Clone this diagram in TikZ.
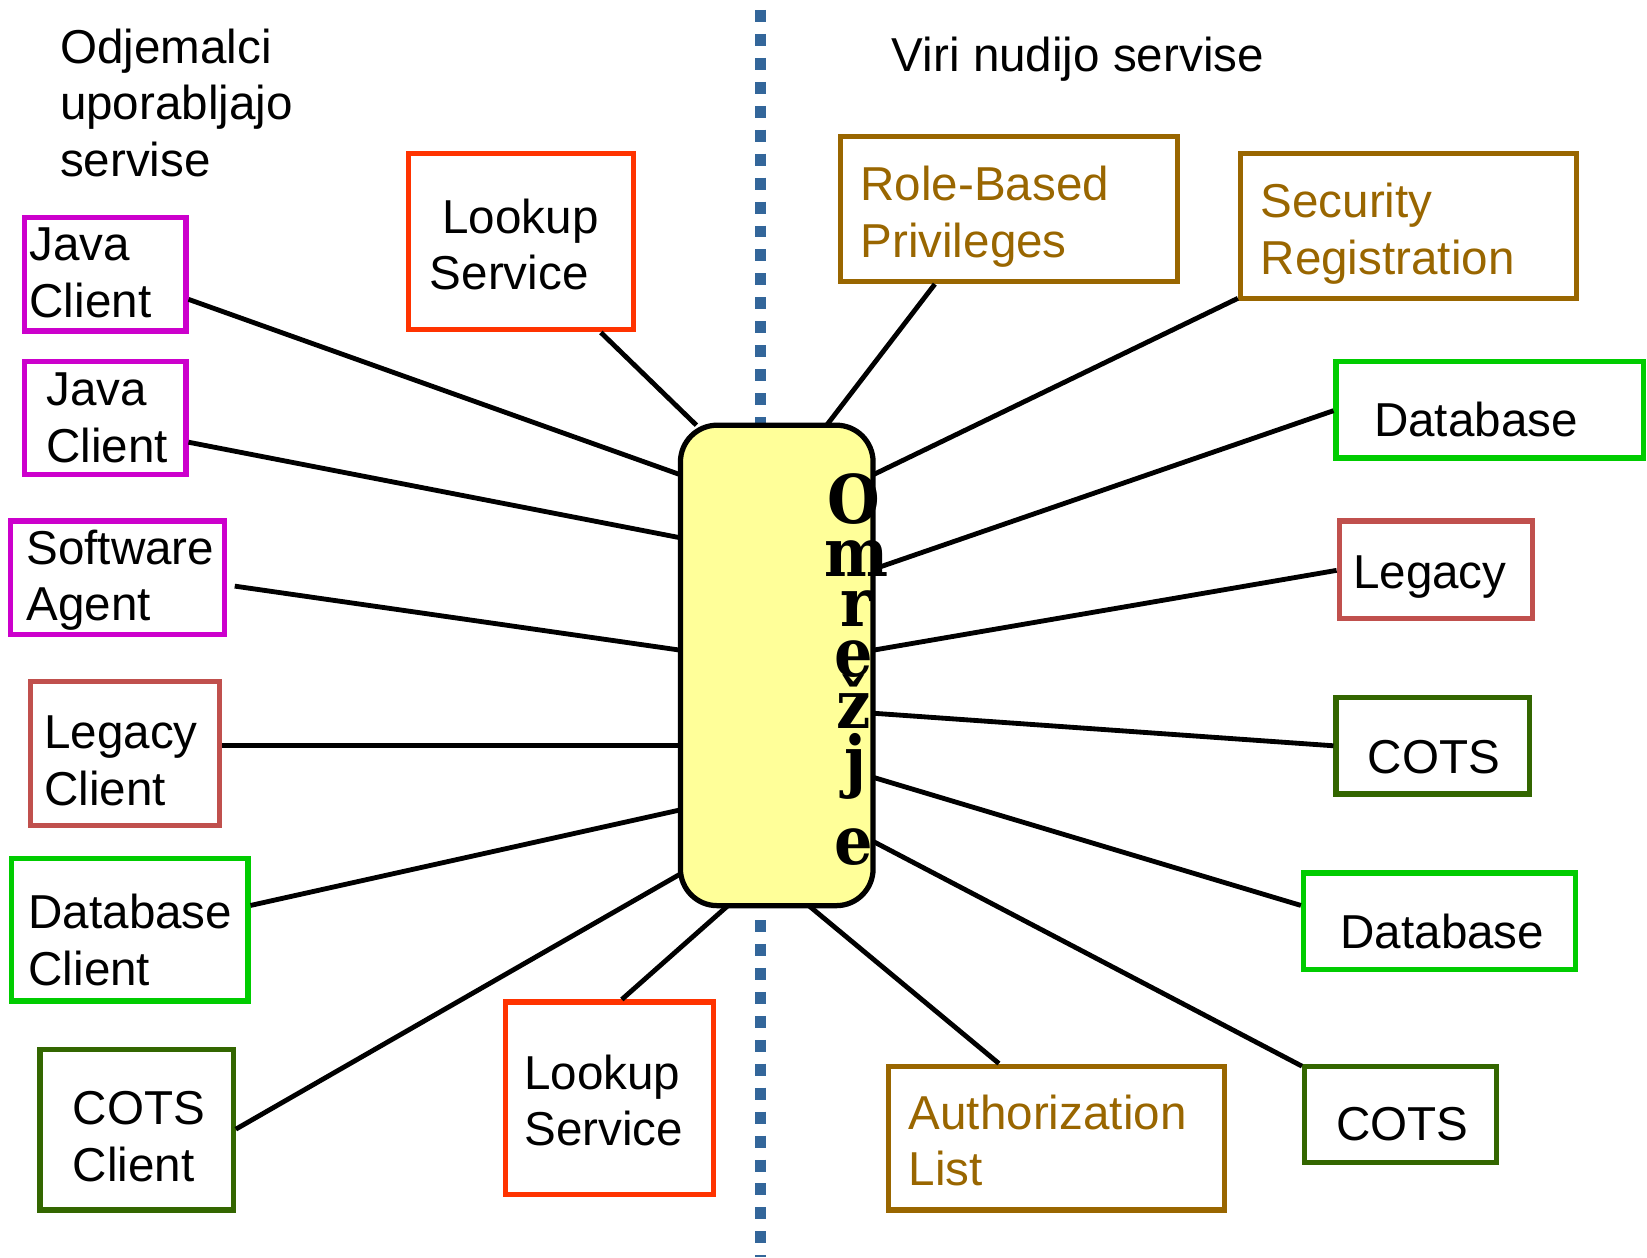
\documentclass[tikz,border=0pt]{standalone}
\usepackage{fontspec}
\setmainfont{Liberation Sans}
\newfontfamily\netfont{DejaVu Serif Condensed}
\usetikzlibrary{fit}
\definecolor{clientmag}{HTML}{CC00CC}
\definecolor{lookupred}{HTML}{FF3300}
\definecolor{secbrown}{HTML}{996600}
\definecolor{dbgreen}{HTML}{00CC00}
\definecolor{cotsgreen}{HTML}{336600}
\definecolor{legacyred}{HTML}{C0504D}
\definecolor{netyellow}{HTML}{FFFF99}
\definecolor{divblue}{HTML}{33669A}

\begin{document}
\begin{tikzpicture}[x=1pt,y=-1pt,
  cbox/.style={draw=#1, line width=5pt, inner sep=0pt},
  % multi-line labels are placed by the baseline of their last line
  ltext/.style={font=\fontsize{45.3}{54}\selectfont, anchor=base west,
                inner sep=0pt, align=left},
  conn/.style={line width=4.6pt, draw=black},
  netletter/.style={font=\netfont\bfseries\fontsize{64}{64}\selectfont,
                    anchor=base, inner sep=0pt}]
\useasboundingbox (0,0) rectangle (1568,1197);

% dividing line between clients and services
\coordinate (divtop) at (724,9.5);
\coordinate (divbot) at (724,1197);
\draw[divblue, line width=11pt, dash pattern=on 11.4pt off 11.4pt] (divtop) -- (divbot);

% headings
\node[ltext] (hclients) at (57,168) {Odjemalci\\uporabljajo\\servise};
\node[ltext] (hservices) at (849,68) {Viri nudijo servise};

% client side boxes
\node[cbox=clientmag, fit={(23,207) (177,315)}] (jc1) {};
\node[ltext] (jc1t) at (28,302) {Java\\Client};
\node[cbox=clientmag, fit={(23,344) (177,452)}] (jc2) {};
\node[ltext] (jc2t) at (44,440) {Java\\Client};
\node[cbox=clientmag, fit={(10,496) (214,604)}] (sa) {};
\node[ltext] (sat) at (25,591) {Software\\Agent};
\node[cbox=legacyred, fit={(29,649) (209,786)}] (lc) {};
\node[ltext] (lct) at (42,767) {Legacy\\Client};
\node[cbox=dbgreen, fit={(11,817) (236,953)}] (dc) {};
\node[ltext] (dct) at (27,938) {Database\\Client};
\node[cbox=cotsgreen, fit={(38,999) (222,1152)}] (cc) {};
\node[ltext] (cct) at (69,1125) {COTS\\Client};
\node[cbox=lookupred, fit={(389,146) (603,314)}] (lu1) {};
\node[ltext] (lu1t) at (409,276) {\hspace*{12pt}Lookup\\Service};
\node[cbox=lookupred, fit={(481,954) (679,1137)}] (lu2) {};
\node[ltext] (lu2t) at (499,1091) {Lookup\\Service};

% service side boxes
\node[cbox=secbrown, fit={(800,130) (1121,268)}] (rb) {};
\node[ltext, text=secbrown] (rbt) at (819,245) {Role-Based\\Privileges};
\node[cbox=secbrown, fit={(1181,146) (1501,284)}] (sr) {};
\node[ltext, text=secbrown] (srt) at (1200,261) {Security\\Registration};
\node[cbox=dbgreen, fit={(1272,344) (1565,436)}] (db1) {};
\node[ltext] (db1t) at (1308,416) {Database};
\node[cbox=legacyred, fit={(1275,496) (1459,589)}] (lg) {};
\node[ltext] (lgt) at (1288,560) {Legacy};
\node[cbox=cotsgreen, fit={(1272,664) (1456,756)}] (co1) {};
\node[ltext] (co1t) at (1302,736) {COTS};
\node[cbox=dbgreen, fit={(1241,831) (1500,923)}] (db2) {};
\node[ltext] (db2t) at (1276,903) {Database};
\node[cbox=cotsgreen, fit={(1242,1015) (1425,1107)}] (co2) {};
\node[ltext] (co2t) at (1272,1086) {COTS};
\node[cbox=secbrown, fit={(846,1015) (1166,1152)}] (al) {};
\node[ltext, text=secbrown] (alt) at (865,1129) {Authorization\\List};

% the network in the middle (outline only, for anchors)
\node[inner sep=0pt, fit={(648,405) (831,862)}] (net) {};

% connectors from the clients
\draw[conn] (jc1.east |- 0,285) -- (net.west |- 0,452);
\draw[conn] (jc2.east |- 0,421) -- (net.west |- 0,512);
\draw[conn] ([xshift=7pt]sa.east |- 0,558) -- (net.west |- 0,619);
\draw[conn] (lc.east |- 0,710) -- (net.west |- 0,710);
\draw[conn] (dc.east |- 0,862) -- (net.west |- 0,771);
\draw[conn] (cc.east |- 0,1075) -- (net.west |- 0,832);
\draw[conn] (572,0 |- lu1.south) -- (663,0 |- net.north);
\draw[conn] (592,0 |- lu2.north) -- (693,0 |- net.south);

% connectors to the services
\draw[conn] (890,0 |- rb.south) -- (787,0 |- net.north);
\draw[conn] (sr.west |- 0,284) -- (net.east |- 0,452);
\draw[conn] (db1.west |- 0,391) -- (net.east |- 0,542);
\draw[conn] (lg.west |- 0,543) -- (net.east |- 0,619);
\draw[conn] (co1.west |- 0,710) -- (net.east |- 0,679);
\draw[conn] (db2.west |- 0,862) -- (net.east |- 0,740);
\draw[conn] (co2.west |- 0,1015) -- (net.east |- 0,801);
\draw[conn] (951,0 |- al.north) -- (770,0 |- net.south);

% network box drawn over the connector ends
\draw[fill=netyellow, line width=5pt, rounded corners=35pt]
  (net.north west) rectangle (net.south east);

% vertical label of the network
\node[netletter] (l1) at (813,498) {O};
\node[netletter] (l2) at (815,549) {m};
\node[netletter] (l3) at (815,596) {r};
\node[netletter] (l4) at (813,644) {e};
\node[netletter] (l5) at (813,694) {ž};
\node[netletter] (l6) at (814,747) {j};
\node[netletter] (l7) at (813,823) {e};
\end{tikzpicture}
\end{document}
